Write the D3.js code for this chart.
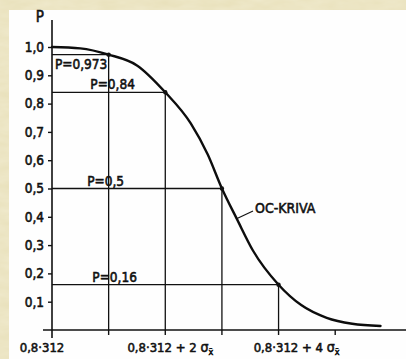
<!DOCTYPE html>
<html>
<head>
<meta charset="utf-8">
<script src="https://cdn.jsdelivr.net/npm/d3@7"></script>
<style>
  html, body { margin: 0; padding: 0; background: #e8e1bd; }
  svg { display: block; }
  text { font-family: "DejaVu Sans Condensed", "Liberation Sans Narrow", sans-serif; fill: #111; stroke: #111; stroke-width: 0.55px; }
</style>
</head>
<body>
<svg id="chart" width="406" height="359"></svg>
<script>
// podatki - OC krivulja (x v enotah sigma od 0,8·312)
const curveU = [0, 0.5, 1, 1.5, 2, 2.45, 2.75, 3, 3.27, 3.55, 4, 4.4, 4.85, 5.3, 5.8];
const curveP = [1.0, 0.995, 0.973, 0.935, 0.84, 0.73, 0.62, 0.5, 0.39, 0.28, 0.16, 0.088, 0.043, 0.022, 0.014];

// označene točke
const markU = [1, 2, 3, 4];
const markP = [0.973, 0.84, 0.5, 0.16];
const markLabels = ["P=0,973", "P=0,84", "P=0,5", "P=0,16"];

// osi
const yTicks = [0.1, 0.2, 0.3, 0.4, 0.5, 0.6, 0.7, 0.8, 0.9, 1.0];
const xTicks = [1, 2, 3, 4, 5];
const xLabelU = [0, 2, 4];
const xLabelText = ["0,8·312", "0,8·312 + 2 ", "0,8·312 + 4 "];

// --------------------------------------------------------------------------

const svg = d3.select("#chart");
const W = 406, H = 359;

// ozadje (papir)
const defs = svg.append("defs");
const flt = defs.append("filter").attr("id", "paper").attr("x", 0).attr("y", 0).attr("width", 1).attr("height", 1);
flt.append("feTurbulence").attr("type", "fractalNoise").attr("baseFrequency", "0.04 0.12").attr("numOctaves", 3).attr("seed", 4);
flt.append("feColorMatrix").attr("values", "0 0 0 0 1  0 0 0 0 0.98  0 0 0 0 0.88  0 0 0 0.35 0");
flt.append("feComposite").attr("in2", "SourceGraphic").attr("operator", "in");

svg.append("rect").attr("width", W).attr("height", H).attr("fill", "#e8e0ba");
svg.append("rect").attr("width", W).attr("height", H).attr("fill", "#e8e0ba").attr("filter", "url(#paper)");
svg.append("rect").attr("x", 9).attr("y", 10).attr("width", W - 9).attr("height", H - 10).attr("fill", "#fefefe");

const x = d3.scaleLinear().domain([0, 6.25]).range([52, 406]);
const y = d3.scaleLinear().domain([0, 1]).range([330, 47]);

const g = svg.append("g");

// os y
const yAxis = g.append("g")
  .attr("transform", "translate(" + x(0) + ",0)")
  .call(d3.axisLeft(y).tickValues(yTicks).tickSize(4).tickPadding(4)
    .tickFormat(d => d3.format(".1f")(d).replace(".", ",")));
yAxis.select(".domain").remove();
yAxis.selectAll("line").attr("stroke", "#111").attr("stroke-width", 1.4);
yAxis.selectAll("text").attr("font-size", 13.5).attr("font-family", null).attr("fill", "#111");

g.append("line")
  .attr("x1", x(0)).attr("x2", x(0))
  .attr("y1", 20).attr("y2", 338)
  .attr("stroke", "#111").attr("stroke-width", 1.6);

g.append("text")
  .attr("x", 44).attr("y", 22)
  .attr("text-anchor", "end")
  .attr("font-size", 15)
  .text("P");

// os x
g.append("line")
  .attr("x1", 43).attr("x2", W)
  .attr("y1", y(0)).attr("y2", y(0))
  .attr("stroke", "#111").attr("stroke-width", 1.6);

g.selectAll(".xtick")
  .data(xTicks)
  .join("line")
    .attr("class", "xtick")
    .attr("x1", d => x(d)).attr("x2", d => x(d))
    .attr("y1", y(0)).attr("y2", y(0) + 5)
    .attr("stroke", "#111").attr("stroke-width", 1.4);

const xLab = g.selectAll(".xlab")
  .data(xLabelU)
  .join("text")
    .attr("class", "xlab")
    .attr("x", (d, i) => x(d) + [-10, 5, 18][i])
    .attr("y", 352)
    .attr("text-anchor", "middle")
    .attr("font-size", 13);

xLab.append("tspan").text((d, i) => xLabelText[i]);
xLab.filter((d, i) => i > 0).append("tspan").attr("font-size", 14).text("σ");
xLab.filter((d, i) => i > 0).append("tspan")
  .attr("font-size", 9).attr("dy", 3)
  .text("x\u0304");

// pomožne črte
g.selectAll(".hline")
  .data(markU)
  .join("line")
    .attr("class", "hline")
    .attr("x1", x(0)).attr("x2", d => x(d))
    .attr("y1", (d, i) => y(markP[i])).attr("y2", (d, i) => y(markP[i]))
    .attr("stroke", "#111").attr("stroke-width", 1.3);

g.selectAll(".vline")
  .data(markU)
  .join("line")
    .attr("class", "vline")
    .attr("x1", d => x(d)).attr("x2", d => x(d))
    .attr("y1", (d, i) => y(markP[i])).attr("y2", y(0))
    .attr("stroke", "#111").attr("stroke-width", 1.3);

// oznake P
g.selectAll(".plab")
  .data(markU)
  .join("text")
    .attr("class", "plab")
    .attr("x", (d, i) => i === 0 ? x(0) + 3 : x(1) + [0, 4, -3, 6][i])
    .attr("y", (d, i) => i === 0 ? y(markP[i]) + 14 : y(markP[i]) - 3)
    .attr("text-anchor", (d, i) => i === 0 ? "start" : "middle")
    .attr("font-size", 13.5)
    .text((d, i) => markLabels[i]);

// OC krivulja
const curveData = curveU.map((u, i) => [u, curveP[i]]);
const line = d3.line()
  .x(d => x(d[0]))
  .y(d => y(d[1]))
  .curve(d3.curveMonotoneX);

g.append("path")
  .datum(curveData)
  .attr("d", line)
  .attr("fill", "none")
  .attr("stroke", "#0d0d0d")
  .attr("stroke-width", 2.4)
  .attr("stroke-linecap", "round");

g.selectAll(".dot")
  .data(markU)
  .join("circle")
    .attr("class", "dot")
    .attr("cx", d => x(d))
    .attr("cy", (d, i) => y(markP[i]))
    .attr("r", 2.2)
    .attr("fill", "#111");

// napis OC-KRIVA
g.append("line")
  .attr("x1", 236).attr("y1", 219)
  .attr("x2", 253).attr("y2", 211)
  .attr("stroke", "#111").attr("stroke-width", 1.3);

g.append("text")
  .attr("x", 255).attr("y", 213)
  .attr("font-size", 14)
  .attr("stroke-width", 0.2)
  .text("OC-KRIVA");
</script>
</body>
</html>
